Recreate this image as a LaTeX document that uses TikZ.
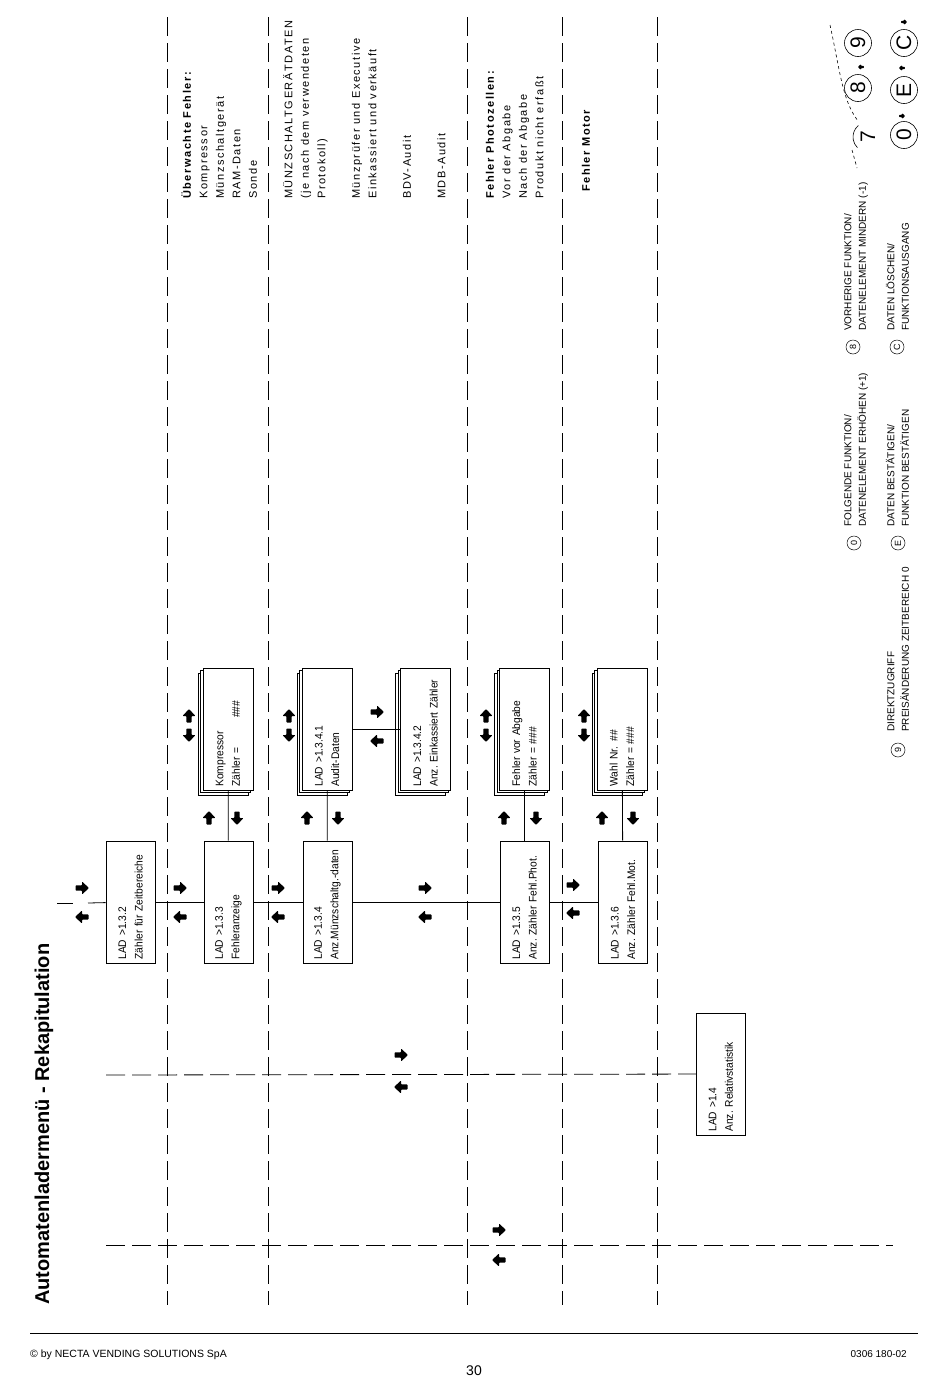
\documentclass[tikz,border=0pt]{standalone}
\usepackage{fontspec}
\setmainfont{Liberation Sans}
\newfontfamily\spacedfont[LetterSpace=14]{Liberation Sans}
\newfontfamily\narrowfont[FakeStretch=0.93]{Liberation Sans}
\usetikzlibrary{shadows}

\tikzset{
  lad/.style={draw, line width=0.8pt, rotate=90, minimum width=122pt, minimum height=49pt,
    text width=115pt, align=left, inner xsep=3.5pt, font=\narrowfont\fontsize{11}{16.5}\selectfont},
  stk/.style={lad, minimum height=50pt, fill=white,
    double copy shadow={shadow xshift=-2.5pt, shadow yshift=-2.5pt}},
  barrow/.pic={\fill[rounded corners=0.8pt] (-6.5,-2.6) -- (0,-2.6) -- (0,-6.5) -- (7,0)
    -- (0,6.5) -- (0,2.6) -- (-6.5,2.6) -- cycle;},
  note/.style={rotate=90, anchor=north west, align=left, inner sep=0pt,
    font=\spacedfont\fontsize{11}{16.5}\selectfont},
  legend/.style={rotate=90, anchor=north west, align=left, inner sep=0pt,
    font=\fontsize{10}{14.5}\selectfont},
  keyl/.style={draw, circle, rotate=90, inner sep=0pt, minimum size=14pt, line width=0.5pt,
    font=\fontsize{9}{9}\selectfont},
  keyp/.style={draw, circle, rotate=90, inner sep=0pt, minimum size=27pt, line width=0.6pt,
    font=\fontsize{21}{21}\selectfont},
  sepline/.style={line width=0.8pt, dash pattern=on 19pt off 7pt},
}

\begin{document}
\begin{tikzpicture}[x=1pt,y=1pt,yscale=-1,xscale=1]
\useasboundingbox (0,0) rectangle (950,1379);

% Title
\node[rotate=90, anchor=base west, inner sep=0pt, font=\bfseries\fontsize{20}{20}\selectfont] (title) at (49,1305) {Automatenladermenü - Rekapitulation};

% Separators
\foreach \x in {167,268,467,562,657}
  \draw[sepline] (\x,17) -- (\x,1305);

% Menu boxes
\node[lad] (b132) at (130.5,902) {LAD >1.3.2\\Zähler für Zeitbereiche};
\node[lad] (b133) at (228.5,902) {LAD >1.3.3\\Fehleranzeige};
\node[lad] (b134) at (327.5,902) {LAD >1.3.4\\Anz.Münzschaltg.-daten};
\node[lad] (b135) at (524.5,902) {LAD >1.3.5\\Anz.\ Zähler Fehl.Phot.};
\node[lad] (b136) at (623,902) {LAD >1.3.6\\Anz.\ Zähler Fehl.Mot.};
\node[lad] (b14) at (721,1074) {LAD >1.4\\Anz.\ Relativstatistik};

% Stacked boxes
\node[stk] (s133) at (228,729) {Kompressor\\Zähler =\hspace{30pt}\#\#\#};
\node[stk] (s1341) at (327,729) {LAD >1.3.4.1\\Audit-Daten};
\node[stk] (s1342) at (425.5,729) {LAD >1.3.4.2\\Anz.\ Einkassiert Zähler};
\node[stk] (s135) at (524.5,729) {Fehler vor Abgabe\\Zähler = \#\#\#};
\node[stk] (s136) at (622,729) {Wahl Nr. \#\#\\Zähler = \#\#\#};

% Connectors
\coordinate (m0) at (57,903);
\coordinate (m1) at (73,903);
\coordinate (m2) at (88,903);
\draw[line width=0.8pt] (m0) -- (m1);
\draw[line width=0.8pt] (m2) -- (b132);
\draw[line width=0.8pt] (b132) -- (b133);
\draw[line width=0.8pt] (b133) -- (b134);
\draw[line width=0.8pt] (b134) -- (b135);
\draw[line width=0.8pt] (b135) -- (b136);
\draw[line width=0.8pt] (s133) -- (b133);
\draw[line width=0.8pt] (s1341) -- (b134);
\draw[line width=0.8pt] (s1341) -- (s1342);
\draw[line width=0.8pt] (s135) -- (b135);
\draw[line width=0.8pt] (s136) -- (b136);
\coordinate (h1) at (106,1075);
\draw[sepline] (h1) -- (b14);
\coordinate (h2a) at (106,1245);
\coordinate (h2b) at (893,1245);
\draw[sepline] (h2a) -- (h2b);

% Arrows (0 right, 180 left, 90 up, 270 down)
\foreach \n/\x/\y/\r in {r1/82/888/0, l1/82/917/180, r2/180/888/0, l2/180/917/180,
    r3/278/888/0, l3/278/917/180, r4/425/888/0, l4/425/917/180,
    r5/573/885/0, l5/573/913/180,
    u6/189/716/90, d6/189/735/270, u7/289/716/90, d7/289/735/270,
    u8/486/716/90, d8/486/735/270, u9/584/716/90, d9/584/735/270,
    u10/209/818/90, d10/237/818/270, u11/307/818/90, d11/338/818/270,
    u12/504/818/90, d12/536/818/270, u13/602/818/90, d13/633/818/270,
    r14/377/712/0, l14/377/741/180,
    r15/401/1055/0, l15/401/1087/180, r16/499/1230/0, l16/499/1260/180}
  \pic[rotate=\r] (\n) at (\x,\y) {barrow};

% Notes
\node[note] (n1) at (179,199) {\strut\textbf{Überwachte Fehler:}\\Kompressor\\Münzschaltgerät\\RAM-Daten\\Sonde};
\node[note] (n2) at (280.5,199) {\strut MÜNZSCHALTGERÄTDATEN\\(je nach dem verwendeten\\Protokoll)\\[18pt]Münzprüfer und Executive\\Einkassiert und verkäuft\\[18pt]BDV-Audit\\[18pt]MDB-Audit};
\node[note] (n3) at (482,199) {\strut\textbf{Fehler Photozellen:}\\Vor der Abgabe\\Nach der Abgabe\\Produkt nicht erfaßt};
\node[note] (n4) at (578,192) {\strut\textbf{Fehler Motor}};

% Legend
\node[keyl] (k9) at (898,750) {9};
\node[legend] (t9) at (884,732) {\strut DIREKTZUGRIFF\\PREISÄNDERUNG ZEITBEREICH 0};
\node[keyl] (k0) at (854,543) {0};
\node[legend] (t0) at (841,527) {\strut FOLGENDE FUNKTION/\\DATENELEMENT ERHÖHEN (+1)};
\node[keyl] (k8) at (853,347) {8};
\node[legend] (t8) at (841,331) {\strut VORHERIGE FUNKTION/\\DATENELEMENT MINDERN (-1)};
\node[keyl] (kE) at (898,543) {E};
\node[legend] (tE) at (884,527) {\strut DATEN BESTÄTIGEN/\\FUNKTION BESTÄTIGEN};
\node[keyl] (kC) at (897,347) {C};
\node[legend] (tC) at (884,331) {\strut DATEN LÖSCHEN/\\FUNKTIONSAUSGANG};

% Keypad
\node[keyp] (p9) at (858,43) {9};
\node[keyp] (p8) at (858,88) {8};
\node[keyp, draw=none] (p7) at (868,137) {7};
\node[keyp] (pC) at (904,43) {C};
\node[keyp] (pE) at (904,90) {E};
\node[keyp] (p0) at (904,135) {0};
\draw[line width=0.6pt] (p7.center) ++(230:15) arc[start angle=230, end angle=135, radius=15];
\draw[dashed, line width=0.6pt] (830,25) .. controls (840,70) and (842,100) .. (858,121);
\draw[dashed, line width=0.6pt] (852,150) -- (857,168);
\pic[rotate=180, scale=0.45] (q8) at (861,67) {barrow};
\pic[rotate=180, scale=0.45] (qE) at (902,68) {barrow};
\pic[rotate=0, scale=0.45] (q0) at (902,116) {barrow};
\pic[rotate=0, scale=0.45] (qC) at (904,22) {barrow};

% Footer
\draw[line width=0.8pt] (30,1333) -- (918,1333);
\node[anchor=base west, inner sep=0pt, font=\fontsize{10.5}{10.5}\selectfont] (copy) at (30,1357) {© by NECTA VENDING SOLUTIONS SpA};
\node[anchor=base, inner sep=0pt, font=\fontsize{14}{14}\selectfont] (page) at (474,1375) {30};
\node[anchor=base east, inner sep=0pt, font=\fontsize{10}{10}\selectfont] (docno) at (907,1357) {0306 180-02};

\end{tikzpicture}
\end{document}
